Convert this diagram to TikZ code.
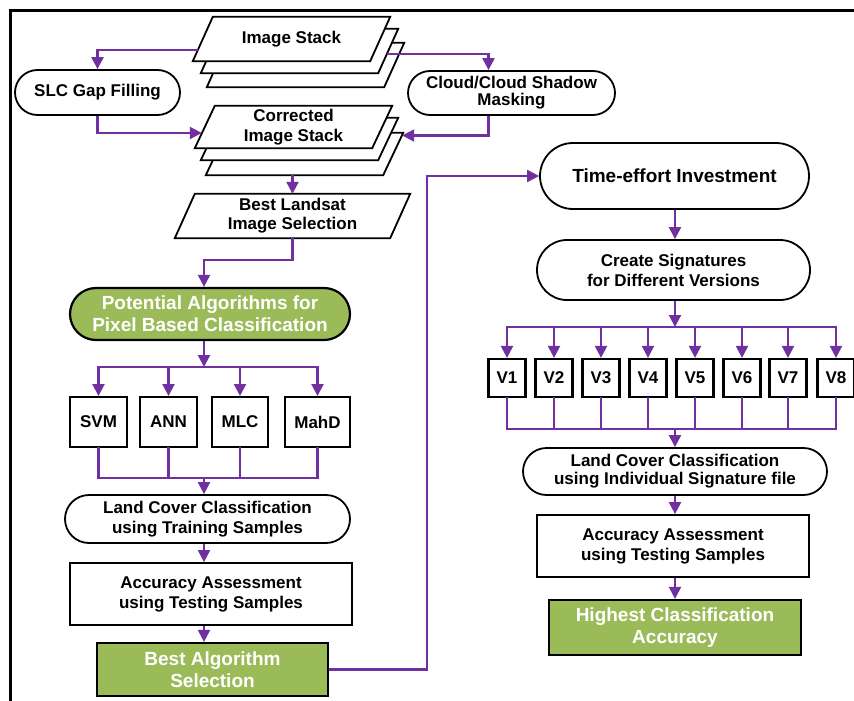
\documentclass[tikz,border=0pt]{standalone}
\usepackage{fontspec}
\setmainfont{Liberation Sans}
\usetikzlibrary{arrows.meta,shapes.misc,calc,backgrounds}

\definecolor{flowpurple}{RGB}{112,48,160}
\definecolor{boxgreen}{RGB}{155,187,89}

% slanted box behind a node: node, shift x, shift y
\newcommand{\slantbox}[3]{%
  \begin{pgfonlayer}{background}
  \draw [databox] ($(#1.north west)+(#2,#3)+(10,0)$) -- ($(#1.north east)+(#2,#3)+(10,0)$)
    -- ($(#1.south east)+(#2,#3)+(-10,0)$) -- ($(#1.south west)+(#2,#3)+(-10,0)$) -- cycle;
  \end{pgfonlayer}}

\begin{document}
\begin{tikzpicture}[x=1pt,y=1pt,yscale=-1,xscale=1,
  every node/.style={font=\bfseries\fontsize{17}{20}\selectfont, align=center, inner sep=0pt},
  flow/.style={draw=flowpurple, line width=2.2, -{Triangle[length=12pt,width=12pt]}},
  link/.style={draw=flowpurple, line width=2.2, line cap=rect},
  termbox/.style={draw, line width=1.8, rounded rectangle, fill=white},
  procbox/.style={draw, line width=1.8, rectangle, fill=white},
  greenbox/.style={draw, line width=2.2, fill=boxgreen, text=white, font=\bfseries\fontsize{19}{22}\selectfont},
  databox/.style={draw, line width=1.8, fill=white, line join=miter},
  stacktext/.style={minimum height=44},
  algbox/.style={draw, line width=2, fill=white, minimum height=50},
  verbox/.style={draw, line width=2.2, fill=white, minimum width=37, minimum height=38},
]
\useasboundingbox (0,0) rectangle (854,701);

%Shape: Frame
\draw [line width=3] (854,10.5) -- (10.5,10.5) -- (10.5,701);

%Shape: Image Stack
\node [stacktext, minimum width=177] (imgA) at (291.5,39) {Image Stack};
\slantbox{imgA}{14}{26}
\slantbox{imgA}{8}{12}
\slantbox{imgA}{0}{0}

%Shape: Corrections
\node [termbox, minimum width=165, minimum height=45] (slc) at (97.5,92.5) {SLC Gap Filling};
\node [termbox, minimum width=207, minimum height=44, font=\bfseries\fontsize{17}{17}\selectfont] (cloud) at (511.5,93) {Cloud/Cloud Shadow\\Masking};

%Shape: Corrected Image Stack
\node [stacktext, minimum width=177, minimum height=42] (corA) at (293.5,127) {Corrected\\Image Stack};
\slantbox{corA}{11}{27}
\slantbox{corA}{6}{12}
\slantbox{corA}{0}{0}

%Shape: Best Landsat
\node [stacktext, minimum width=215, font=\bfseries\fontsize{17}{19}\selectfont] (best) at (292.5,216) {Best Landsat\\Image Selection};
\slantbox{best}{0}{0}

%Shape: Potential Algorithms
\node [greenbox, rounded rectangle, minimum width=280, minimum height=52] (pot) at (210,314) {Potential Algorithms for\\Pixel Based Classification};

% Text Node
\node [algbox, minimum width=57] (svm) at (98.5,422) {SVM};
\node [algbox, minimum width=57] (ann) at (168.5,422) {ANN};
\node [algbox, minimum width=56] (mlc) at (240,422) {MLC};
\node [algbox, minimum width=65] (mahd) at (317.5,422) {MahD};

%Shape: Left column
\node [termbox, minimum width=285, minimum height=48] (land1) at (207.5,519) {Land Cover Classification\\using Training Samples};
\node [procbox, minimum width=282, minimum height=62] (acc1) at (211,594) {Accuracy Assessment\\using Testing Samples};
\node [greenbox, minimum width=231, minimum height=53] (alg) at (212.5,669.5) {Best Algorithm\\Selection};

%Shape: Right column
\node [termbox, minimum width=269, minimum height=66, font=\bfseries\fontsize{19}{22}\selectfont] (time) at (674.5,176) {Time-effort Investment};
\node [termbox, minimum width=273, minimum height=60] (sign) at (673.5,270) {Create Signatures\\for Different Versions};

% Text Node
\node [verbox] (v1) at (507,378) {V1};
\node [verbox] (v2) at (554,378) {V2};
\node [verbox] (v3) at (601,378) {V3};
\node [verbox] (v4) at (648,378) {V4};
\node [verbox] (v5) at (695,378) {V5};
\node [verbox] (v6) at (742,378) {V6};
\node [verbox] (v7) at (788,378) {V7};
\node [verbox] (v8) at (836,378) {V8};

\node [termbox, minimum width=304, minimum height=47, font=\bfseries\fontsize{17}{18}\selectfont] (land2) at (675,471.5) {Land Cover Classification\\using Individual Signature file};
\node [procbox, minimum width=272, minimum height=62] (acc2) at (673,546) {Accuracy Assessment\\using Testing Samples};
\node [greenbox, minimum width=252, minimum height=55] (high) at (675,627.5) {Highest Classification\\Accuracy};

% Coordinates
\coordinate (colA) at (204,0);
\coordinate (colB) at (675,0);
\coordinate (imgleft) at ($(imgA.west)+(-5,11)$);
\coordinate (imgright) at ($(imgA.east)+(7,15)$);
\coordinate (corleft) at ($(corA.west)+(-3,6)$);
\coordinate (corright) at ($(corA.east)+(20,8.5)$);
\coordinate (corbase) at ($(corA.south)+(0,27)$);
\coordinate (cloudin) at ($(cloud.north)+(-23,0)$);
\coordinate (cloudout) at ($(cloud.south)+(-23,0)$);
\coordinate (splitA) at (204,367);
\coordinate (mergeA) at (204,478);
\coordinate (turn) at (427,400);
\coordinate (splitB) at (675,327);
\coordinate (mergeB) at (675,429);

%Straight Lines: top part
\draw [flow] (imgleft) -| (slc.north);
\draw [flow] (imgright) -| (cloudin);
\draw [flow] (slc.south) |- (corleft);
\draw [flow] (cloudout) |- (corright);
\draw [flow] (corbase -| best.north) -- (best.north);
\draw [flow] (best.south) -- ++(0,22) -| (pot.north -| colA);

%Straight Lines: algorithms
\draw [flow] (pot.south -| colA) -- (splitA);
\draw [link] (svm.north |- splitA) -- (mahd.north |- splitA);
\draw [flow] (svm.north |- splitA) -- (svm.north);
\draw [flow] (ann.north |- splitA) -- (ann.north);
\draw [flow] (mlc.north |- splitA) -- (mlc.north);
\draw [flow] (mahd.north |- splitA) -- (mahd.north);
\draw [link] (svm.south) -- (svm.south |- mergeA);
\draw [link] (ann.south) -- (ann.south |- mergeA);
\draw [link] (mlc.south) -- (mlc.south |- mergeA);
\draw [link] (mahd.south) -- (mahd.south |- mergeA);
\draw [link] (svm.south |- mergeA) -- (mahd.south |- mergeA);
\draw [flow] (mergeA) -- (land1.north -| colA);
\draw [flow] (land1.south -| colA) -- (acc1.north -| colA);
\draw [flow] (acc1.south -| colA) -- (alg.north -| colA);

%Straight Lines: to right column
\draw [flow] (alg.east) -| (turn) |- (time.west);
\draw [flow] (time.south -| colB) -- (sign.north -| colB);

%Straight Lines: versions
\draw [flow] (sign.south -| colB) -- (splitB);
\draw [link] (v1.north |- splitB) -- (v8.north |- splitB);
\draw [flow] (v1.north |- splitB) -- (v1.north);
\draw [flow] (v2.north |- splitB) -- (v2.north);
\draw [flow] (v3.north |- splitB) -- (v3.north);
\draw [flow] (v4.north |- splitB) -- (v4.north);
\draw [flow] (v5.north |- splitB) -- (v5.north);
\draw [flow] (v6.north |- splitB) -- (v6.north);
\draw [flow] (v7.north |- splitB) -- (v7.north);
\draw [flow] (v8.north |- splitB) -- (v8.north);
\draw [link] (v1.south) -- (v1.south |- mergeB);
\draw [link] (v2.south) -- (v2.south |- mergeB);
\draw [link] (v3.south) -- (v3.south |- mergeB);
\draw [link] (v4.south) -- (v4.south |- mergeB);
\draw [link] (v5.south) -- (v5.south |- mergeB);
\draw [link] (v6.south) -- (v6.south |- mergeB);
\draw [link] (v7.south) -- (v7.south |- mergeB);
\draw [link] (v8.south) -- (v8.south |- mergeB);
\draw [link] (v1.south |- mergeB) -- (v8.south |- mergeB);
\draw [flow] (mergeB) -- (land2.north -| colB);
\draw [flow] (land2.south -| colB) -- (acc2.north -| colB);
\draw [flow] (acc2.south -| colB) -- (high.north -| colB);

\end{tikzpicture}
\end{document}
